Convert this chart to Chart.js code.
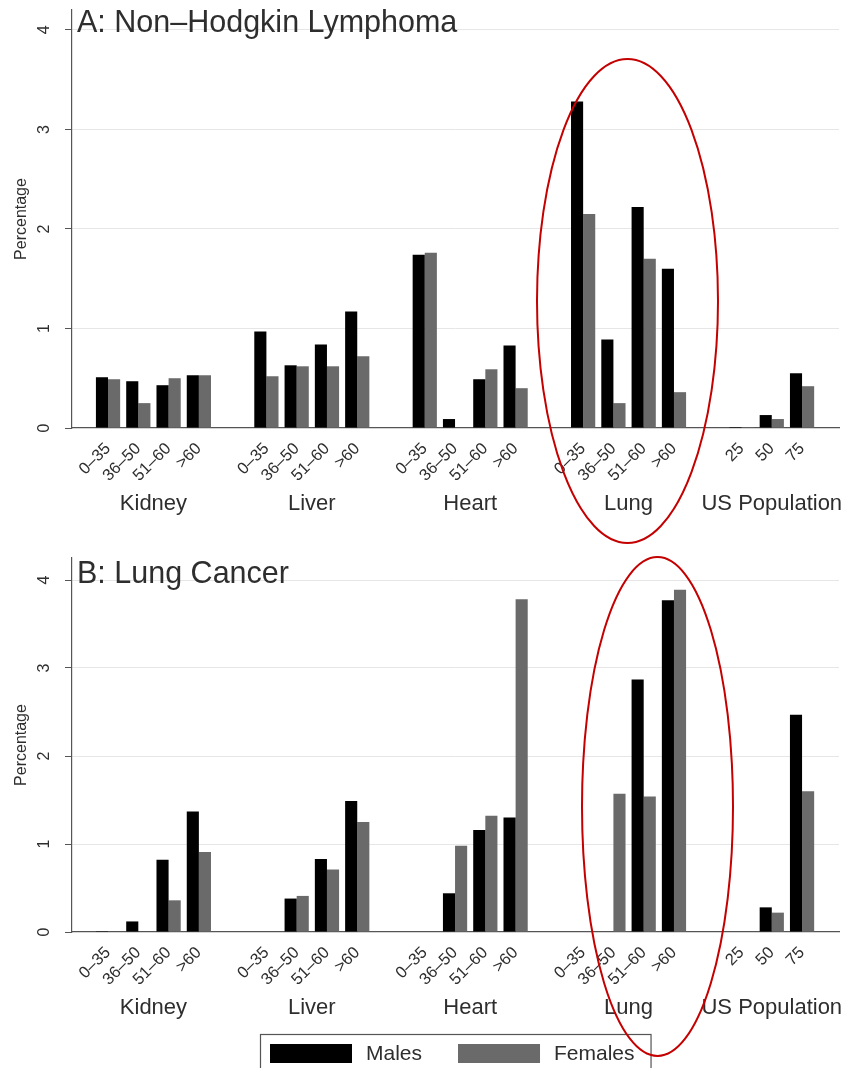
<!DOCTYPE html>
<html>
<head>
<meta charset="utf-8">
<script src="https://cdn.jsdelivr.net/npm/chart.js@4.4.1/dist/chart.umd.min.js"></script>
<style>
html, body { margin: 0; padding: 0; background: #ffffff; }
#wrap { position: relative; width: 852px; height: 1068px; overflow: hidden; background: #fff; }
canvas { display: block; }
#ov { position: absolute; left: 0; top: 0; pointer-events: none; }
</style>
</head>
<body>
<div id="wrap">
  <canvas id="c1" width="852" height="540"></canvas>
  <canvas id="c2" width="852" height="528"></canvas>
  <svg id="ov" width="852" height="1068" xmlns="http://www.w3.org/2000/svg">
    <ellipse cx="627.5" cy="301" rx="90.5" ry="242" fill="none" stroke="#c40000" stroke-width="2"/>
    <ellipse cx="657.5" cy="806.5" rx="75.5" ry="249.5" fill="none" stroke="#c40000" stroke-width="2"/>
  </svg>
</div>
<script>
// ---------------- data ----------------
const groups = ['Kidney', 'Liver', 'Heart', 'Lung', 'US Population'];
const organAgeBands = ['0–35', '36–50', '51–60', '>60'];
const populationAges = ['25', '50', '75'];
const groupTickLabels = [organAgeBands, organAgeBands, organAgeBands, organAgeBands, populationAges];
const yTicks = [0, 1, 2, 3, 4];
const seriesNames = ['Males', 'Females'];

const panelTitles = ['A: Non–Hodgkin Lymphoma', 'B: Lung Cancer'];

// Panel A: Non-Hodgkin Lymphoma (percentage)
const nhlMales   = [0.51, 0.47, 0.43, 0.53,  0.97, 0.63, 0.84, 1.17,  1.74, 0.09, 0.49, 0.83,  3.28, 0.89, 2.22, 1.60,  0.01, 0.13, 0.55];
const nhlFemales = [0.49, 0.25, 0.50, 0.53,  0.52, 0.62, 0.62, 0.72,  1.76, 0.00, 0.59, 0.40,  2.15, 0.25, 1.70, 0.36,  0.01, 0.09, 0.42];

// Panel B: Lung Cancer (percentage)
const lungMales   = [0.01, 0.12, 0.82, 1.37,  0.00, 0.38, 0.83, 1.49,  0.00, 0.44, 1.16, 1.30,  0.00, 0.00, 2.87, 3.77,  0.00, 0.28, 2.47];
const lungFemales = [0.00, 0.00, 0.36, 0.91,  0.00, 0.41, 0.71, 1.25,  0.00, 0.98, 1.32, 3.78,  0.00, 1.57, 1.54, 3.89,  0.00, 0.22, 1.60];

// ---------------- layout helpers ----------------
const GROUP_STRIDE = 5.23;      // slots from one group start to the next (includes gap)
const xPos = [], tickLabels = [], groupCenters = [];
groupTickLabels.forEach((labs, g) => {
  labs.forEach((lab, i) => { xPos.push(g * GROUP_STRIDE + i); tickLabels.push(lab); });
  groupCenters.push(g * GROUP_STRIDE + (labs.length - 1) / 2);
});
const X_MIN = xPos[0] - 1.19;
const X_MAX = xPos[xPos.length - 1] + 1.22;

const FONT = '"Liberation Sans", Arial, Helvetica, sans-serif';
const TXT = '#2e2e2e';
const AXIS = '#555555';
const MALE = '#000000';
const FEMALE = '#6a6a6a';
Chart.defaults.font.family = FONT;

const panelTitle = {
  id: 'panelTitle',
  afterDraw(chart, args, opts) {
    const { ctx, chartArea } = chart;
    ctx.save();
    ctx.font = '30.5px ' + FONT;
    ctx.fillStyle = TXT;
    ctx.textBaseline = 'alphabetic';
    ctx.textAlign = 'left';
    ctx.fillText(opts.text, chartArea.left + 5, chartArea.top + opts.dy);
    ctx.restore();
  }
};

const boxLegend = {
  id: 'boxLegend',
  afterDraw(chart, args, opts) {
    if (!opts.display) return;
    const { ctx, chartArea } = chart;
    ctx.save();
    ctx.font = '21px ' + FONT;
    const items = chart.data.datasets.map(d => ({ label: d.label, color: d.backgroundColor, w: ctx.measureText(d.label).width }));
    const SW = 82, SH = 19, GAP = 14, ITEM_GAP = 36, PADL = 10, PADR = 16;
    let total = PADL + PADR;
    items.forEach((it, i) => { total += SW + GAP + it.w + (i ? ITEM_GAP : 0); });
    const cx = (chartArea.left + chartArea.right) / 2;
    let x = Math.round(cx - total / 2);
    const top = chart.height - opts.fromBottom;
    ctx.strokeStyle = AXIS;
    ctx.lineWidth = 1.2;
    ctx.strokeRect(x + 0.5, top + 0.5, total, opts.fromBottom + 10);
    x += PADL;
    items.forEach(it => {
      ctx.fillStyle = it.color;
      ctx.fillRect(x, top + 10, SW, SH);
      x += SW + GAP;
      ctx.fillStyle = TXT;
      ctx.textBaseline = 'middle';
      ctx.textAlign = 'left';
      ctx.fillText(it.label, x, top + 10 + SH / 2 + 1);
      x += it.w + ITEM_GAP;
    });
    ctx.restore();
  }
};

function makeChart(canvasId, title, titleDy, males, females, yMax, padTop, padBottom, groupAxisH, showLegend) {
  const toPoints = arr => xPos.map((x, i) => ({ x: x, y: arr[i] }));
  return new Chart(document.getElementById(canvasId), {
    type: 'bar',
    data: {
      datasets: [
        { label: seriesNames[0], data: toPoints(males), backgroundColor: MALE, borderWidth: 0,
          categoryPercentage: 0.8, barPercentage: 1.0, xAxisID: 'x', yAxisID: 'y' },
        { label: seriesNames[1], data: toPoints(females), backgroundColor: FEMALE, borderWidth: 0,
          categoryPercentage: 0.8, barPercentage: 1.0, xAxisID: 'x', yAxisID: 'y' }
      ]
    },
    options: {
      responsive: false,
      animation: false,
      layout: { padding: { top: padTop, right: 13, bottom: padBottom, left: 0 } },
      plugins: {
        legend: { display: false },
        tooltip: { enabled: false },
        panelTitle: { text: title, dy: titleDy },
        boxLegend: { display: showLegend, fromBottom: 34 }
      },
      scales: {
        x: {
          type: 'linear', position: 'bottom', min: X_MIN, max: X_MAX, weight: 0, offset: false,
          grid: { display: false, drawTicks: false, offset: false },
          border: { display: true, color: AXIS, width: 1.2 },
          afterBuildTicks: s => { s.ticks = xPos.map(v => ({ value: v })); },
          afterFit: s => { s.height = 60; s.paddingLeft = 0; s.paddingRight = 0; },
          ticks: { autoSkip: false, minRotation: 45, maxRotation: 45, padding: 11, color: TXT,
                   font: { size: 16.5 }, callback: (v, i) => tickLabels[i] }
        },
        xg: {
          type: 'linear', position: 'bottom', min: X_MIN, max: X_MAX, weight: 1, offset: false,
          grid: { display: false, drawTicks: false, offset: false },
          border: { display: false },
          afterBuildTicks: s => { s.ticks = groupCenters.map(v => ({ value: v })); },
          afterFit: s => { s.height = groupAxisH; s.paddingLeft = 0; s.paddingRight = 0; },
          ticks: { autoSkip: false, minRotation: 0, maxRotation: 0, padding: 3, color: TXT,
                   font: { size: 22 }, callback: (v, i) => groups[i] }
        },
        y: {
          type: 'linear', position: 'left', min: 0, max: yMax,
          afterBuildTicks: s => { s.ticks = yTicks.map(v => ({ value: v })); },
          afterFit: s => { s.width = 72; s.paddingTop = 0; s.paddingBottom = 0; },
          grid: {
            color: c => (c.tick && c.tick.value === 0) ? 'rgba(0,0,0,0)' : '#e6e6e6',
            tickColor: AXIS, tickLength: 7, drawTicks: true, lineWidth: 1
          },
          border: { display: true, color: AXIS, width: 1.2 },
          ticks: { minRotation: 90, maxRotation: 90, crossAlign: 'center', padding: 16, color: TXT,
                   font: { size: 16 }, callback: v => String(v) },
          title: { display: true, text: 'Percentage', color: TXT, font: { size: 16 }, padding: { top: 12, bottom: 0 } }
        }
      }
    },
    plugins: [panelTitle, boxLegend]
  });
}

makeChart('c1', panelTitles[0], 22, nhlMales, nhlFemales, 4.2, 10, 12, 40, false);
makeChart('c2', panelTitles[1], 25, lungMales, lungFemales, 4.25, 18, 40, 36, true);
</script>
</body>
</html>
